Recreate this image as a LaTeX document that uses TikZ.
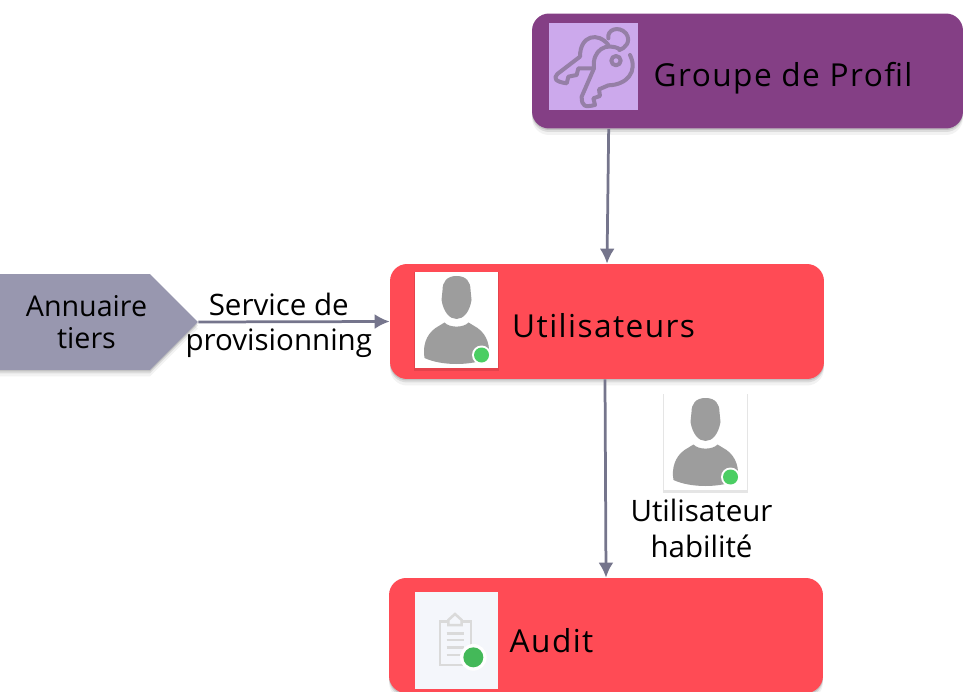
\documentclass[tikz,border=0pt]{standalone}
\usepackage{fontspec}
\setmainfont{Open Sans}
\newfontfamily\titlefont[LetterSpace=4.5]{Open Sans}
\usepackage{tikz}
\usetikzlibrary{arrows.meta,shapes.symbols,shadows,positioning}
\definecolor{boxred}{HTML}{FF4B55}
\definecolor{boxpurple}{HTML}{843F85}
\definecolor{keyback}{HTML}{CCA9EC}
\definecolor{keyline}{HTML}{957FA6}
\definecolor{tierfill}{HTML}{9897AF}
\definecolor{linkgrey}{HTML}{75758C}
\definecolor{persongrey}{HTML}{9D9D9D}
\definecolor{dotgreen}{HTML}{4BCE63}
\definecolor{auditback}{HTML}{F4F6FB}
\definecolor{clipgrey}{HTML}{DADADA}
\tikzset{
  softshadow/.style={
    drop shadow={shadow xshift=0cm, shadow yshift=-0.03cm, opacity=0.12, fill=black},
    drop shadow={shadow xshift=0cm, shadow yshift=-0.07cm, opacity=0.09, fill=black},
    drop shadow={shadow xshift=0cm, shadow yshift=-0.13cm, opacity=0.05, fill=black}},
  mainbox/.style={rectangle, rounded corners=0.34cm, minimum height=2.3cm, inner sep=0, softshadow},
  iconbox/.style={rectangle, inner sep=0, minimum width=1.66cm, minimum height=1.92cm},
  iconshadow/.style={drop shadow={shadow xshift=0cm, shadow yshift=-0.03cm, shadow scale=1.03, opacity=0.1, fill=black}},
  boxtitle/.style={inner sep=0, font=\titlefont\fontsize{18}{22}\selectfont},
  textlabel/.style={inner sep=0, align=center, font=\fontsize{16.8}{20.2}\selectfont},
  tierbox/.style={signal, signal to=east, signal pointer angle=90, fill=tierfill, inner sep=0,
    minimum width=3.98cm, minimum height=1.92cm, softshadow, font=\fontsize{16.3}{18.7}\selectfont},
  link/.style={draw=linkgrey, line width=0.055cm, -{Latex[length=0.3cm,width=0.3cm]}},
  pics/person/.style={code={
    \fill[persongrey] (0,-44) .. controls (-10,-44) and (-14,-38) .. (-14,-30) -- (-15,-20)
      .. controls (-13,-8) and (-7,-1) .. (0,-1)
      .. controls (7,-1) and (13,-8) .. (15,-20) -- (14,-30)
      .. controls (14,-38) and (10,-44) .. (0,-44) -- cycle;
    \fill[persongrey] (-32,38) .. controls (-34,27) and (-31,15) .. (-21,8)
      -- (-12,2.5) .. controls (-7,8) and (7,8) .. (12,2.5) -- (21,8)
      .. controls (31,15) and (34,27) .. (32,38)
      .. controls (15,46) and (-15,46) .. (-32,38) -- cycle;
    \fill[white] (25,35) circle (9.5);
    \fill[dotgreen] (25,35) circle (7.5);
  }}
}
\begin{document}
\begin{tikzpicture}[x=0.02cm, y=-0.02cm]
  \useasboundingbox (0,0) rectangle (963,692);

  \node[mainbox, fill=boxpurple, minimum width=8.62cm] (groupe) at (747.5,71) {};
  \node[mainbox, fill=boxred, minimum width=8.68cm] (users) at (607,321.5) {};
  \node[mainbox, fill=boxred, minimum width=8.68cm] (audit) at (606,635.5) {};
  \node[tierbox] (tiers) at (74.5,322) {\hspace{0.48cm}\raisebox{0pt}[\dimexpr\height+0.16cm][\depth]{\begin{tabular}{@{}c@{}}Annuaire\\tiers\end{tabular}}};

  \node[iconbox, fill=keyback, minimum width=1.78cm, minimum height=1.74cm, right=0.34cm of groupe.west, yshift=0.09cm] (keysimg) {};
  \node[iconbox, fill=white, iconshadow, right=0.5cm of users.west, yshift=0.03cm] (usersimg) {};
  \node[iconbox, fill=auditback, minimum height=1.94cm, right=0.52cm of audit.west, yshift=-0.1cm] (auditimg) {};
  \node[iconbox, fill=white, iconshadow] (habimg) at (705.5,442) {};

  \node[boxtitle, right=0.3cm of keysimg, yshift=-0.23cm] (groupetitle) {Groupe de Profil};
  \node[boxtitle, right=0.27cm of usersimg, yshift=-0.12cm] (userstitle) {Utilisateurs};
  \node[boxtitle, right=0.22cm of auditimg] (audittitle) {Audit};

  \pic at (usersimg) {person};
  \pic at (habimg) {person};

  % keys
  \begin{scope}[shift={(530,0)}, x=0.00667cm, y=-0.00667cm, draw=keyline, line width=0.08cm, line join=round, line cap=round]
    \draw (235,135) .. controls (205,95) and (150,105) .. (150,170) -- (82,222)
      .. controls (70,235) and (75,245) .. (110,250) -- (115,230) -- (140,225) -- (145,205) -- (190,205);
    \draw (235,115) .. controls (230,90) and (265,75) .. (288,100)
      .. controls (305,125) and (285,145) .. (268,150);
    \draw (270,148) .. controls (230,125) and (185,150) .. (192,205) -- (155,290)
      .. controls (155,320) and (165,322) .. (195,315) -- (190,295) -- (210,288) -- (207,268) -- (235,256)
      .. controls (290,255) and (325,215) .. (300,165);
    \draw (258,182) circle (14);
  \end{scope}

  % clipboard
  \begin{scope}[shift={(385,570)}, x=0.00667cm, y=-0.00667cm, draw=clipgrey, line width=0.05cm]
    \draw (190,155) -- (165,155) -- (165,285) -- (258,285) -- (258,155) -- (230,155);
    \draw[fill=auditback] (190,165) -- (190,150) -- (210,132) -- (230,150) -- (230,165) -- cycle;
    \foreach \y in {190,210,232,255}
      \draw (185,\y) -- (238,\y);
    \fill[white] (265,262) circle (40);
    \fill[dotgreen!90!black] (265,262) circle (30);
  \end{scope}

  \draw[link] ([xshift=1.54cm]groupe.south west) -- (users.north);
  \draw[link] (tiers.east) -- node[textlabel, pos=0.42, yshift=-0.07cm] (provlabel) {Service de\\provisionning} (users.west);
  \draw[link] ([xshift=-0.04cm]users.south) -- (audit.north);

  \node[textlabel, below=0.17cm of habimg, xshift=-0.08cm] (hablabel) {Utilisateur\\habilité};
\end{tikzpicture}
\end{document}
